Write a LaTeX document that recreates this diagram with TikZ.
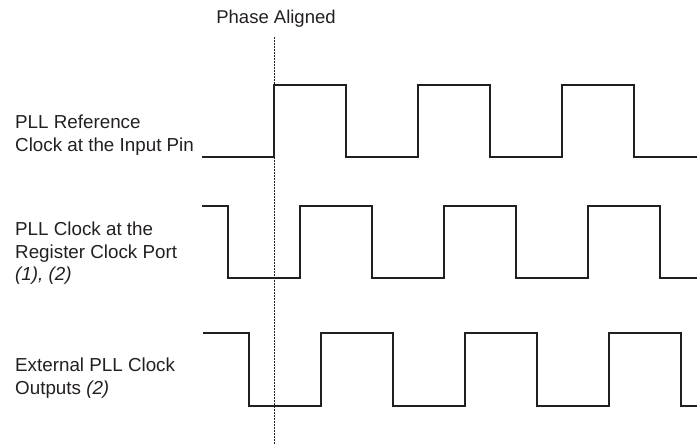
\documentclass[tikz,border=0pt]{standalone}
\usepackage{fontspec}
\setmainfont{Liberation Sans}
\definecolor{ink}{HTML}{231F20}
\begin{document}
\begin{tikzpicture}[x=1pt,y=-1pt,
  wave/.style={draw=ink,line width=1.3pt,line join=miter},
  guide/.style={draw=ink,line width=0.9pt,dash pattern=on 1.6pt off 1.4pt},
  lbl/.style={font=\fontsize{18.8}{22.7}\selectfont,text=ink,inner sep=0pt,align=left,anchor=north west}]
\useasboundingbox (0,0) rectangle (697,444);
% guide line
\coordinate (gtop) at (274,37);
\coordinate (gbot) at (274,444);
\draw[guide] (gtop) -- (gbot);
\node[font=\fontsize{18.5}{23}\selectfont,text=ink,inner sep=0pt,anchor=base] (phase) at (276,23.5) {Phase Aligned};
% labels
\node[lbl] (l1) at (15,114.5) {PLL Reference\\Clock at the Input Pin};
\node[lbl] (l2) at (15,221.5) {PLL Clock at the\\Register Clock Port\\\textit{(1), (2)}};
\node[lbl] (l3) at (15,358) {External PLL Clock\\Outputs \textit{(2)}};
% wave 1
\draw[wave] (202,157) -- (274,157) -- (274,85) -- (346,85) -- (346,157) -- (418,157) -- (418,85) -- (490,85) -- (490,157) -- (562,157) -- (562,85) -- (634,85) -- (634,157) -- (697,157);
% wave 2
\draw[wave] (202,206) -- (228,206) -- (228,278) -- (300,278) -- (300,206) -- (372,206) -- (372,278) -- (444,278) -- (444,206) -- (516,206) -- (516,278) -- (588,278) -- (588,206) -- (660,206) -- (660,278) -- (697,278);
% wave 3
\draw[wave] (203,333) -- (249,333) -- (249,406) -- (321,406) -- (321,333) -- (393,333) -- (393,406) -- (465,406) -- (465,333) -- (537,333) -- (537,406) -- (609,406) -- (609,333) -- (681,333) -- (681,406) -- (697,406);
\end{tikzpicture}
\end{document}
